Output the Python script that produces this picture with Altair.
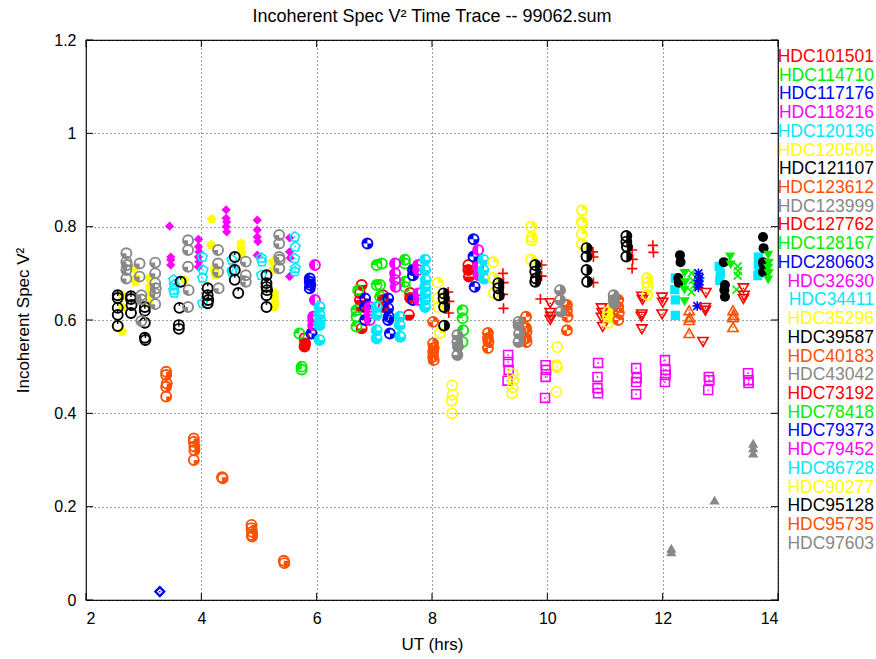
import math
import altair as alt
import pandas as pd

NAMES = ["HDC101501", "HDC114710", "HDC117176", "HDC118216", "HDC120136", "HDC120509",
         "HDC121107", "HDC123612", "HDC123999", "HDC127762", "HDC128167", "HDC280603",
         "HDC32630", "HDC34411", "HDC35296", "HDC39587", "HDC40183", "HDC43042",
         "HDC73192", "HDC78418", "HDC79373", "HDC79452", "HDC86728", "HDC90277",
         "HDC95128", "HDC95735", "HDC97603"]
PALETTE = ["#ff0000", "#00ee00", "#0000ff", "#ff00ff", "#00e8ff", "#ffff00",
           "#000000", "#ff5000", "#888888"]

X_TICKS = [2, 4, 6, 8, 10, 12, 14]
Y_TICKS = [0, 0.2, 0.4, 0.6, 0.8, 1.0, 1.2]

# ---- data: UT (hrs) and V^2 per star ----
UT_101501 = [8.28, 8.30, 8.29, 9.23, 9.24, 9.23, 9.24, 9.88, 9.90, 9.90, 10.79, 10.80, 10.80, 11.47, 11.48, 11.47, 11.83, 11.84]
V_101501 = [0.66, 0.64, 0.615, 0.70, 0.68, 0.655, 0.625, 0.645, 0.718, 0.694, 0.746, 0.735, 0.68, 0.75, 0.73, 0.71, 0.76, 0.745]

UT_114710 = [12.50, 12.52, 12.55, 12.50, 13.30, 13.31, 13.30, 13.28]
V_114710 = [0.70, 0.685, 0.675, 0.66, 0.715, 0.705, 0.695, 0.665]

UT_117176 = [12.62, 12.64, 12.62, 12.63, 12.62, 12.60]
V_117176 = [0.70, 0.69, 0.685, 0.675, 0.67, 0.63]

UT_118216 = [9.32, 9.32, 9.33, 9.31, 9.97, 9.98, 9.97, 9.96, 10.88, 10.87, 10.87, 10.88,
             11.54, 11.55, 11.54, 11.54, 12.04, 12.05, 12.05, 12.04, 12.80, 12.81, 12.79, 13.48, 13.49, 13.49]
V_118216 = [0.525, 0.51, 0.493, 0.47, 0.503, 0.493, 0.478, 0.433, 0.508, 0.478, 0.454, 0.443,
            0.497, 0.476, 0.467, 0.441, 0.514, 0.493, 0.482, 0.467, 0.478, 0.471, 0.45, 0.486, 0.471, 0.465]

UT_120136 = [12.22, 12.21, 12.22, 12.22, 12.98, 13.00, 12.99, 13.66, 13.66, 13.67, 13.65]
V_120136 = [0.69, 0.665, 0.643, 0.61, 0.715, 0.70, 0.685, 0.735, 0.72, 0.705, 0.695]

UT_120509 = [8.35, 8.36, 8.34, 8.35, 9.40, 9.41, 9.40, 9.39, 10.17, 10.16, 10.17, 10.16]
V_120509 = [0.46, 0.44, 0.427, 0.40, 0.484, 0.471, 0.456, 0.443, 0.542, 0.503, 0.499, 0.446]

UT_121107 = [12.30, 12.31, 12.27, 12.28, 13.06, 13.08, 13.07, 13.08, 13.74, 13.75, 13.74, 13.75, 13.74]
V_121107 = [0.739, 0.724, 0.69, 0.68, 0.724, 0.675, 0.664, 0.65, 0.778, 0.754, 0.724, 0.718, 0.703]

UT_123612 = [12.46, 12.47, 12.46, 12.46, 13.22, 13.23, 13.22, 13.22]
V_123612 = [0.621, 0.606, 0.60, 0.572, 0.621, 0.611, 0.606, 0.585]

UT_123999 = [12.15, 12.15, 12.90, 13.57, 13.57, 13.57]
V_123999 = [0.111, 0.103, 0.214, 0.336, 0.326, 0.315]

UT_127762 = [10.05, 10.05, 10.06, 10.05, 10.94, 10.95, 10.94, 10.96, 11.64, 11.65, 11.64, 11.63, 11.64,
             11.99, 12.00, 11.99, 12.75, 12.74, 12.74, 12.70, 13.40, 13.41, 13.40]
V_127762 = [0.636, 0.615, 0.607, 0.60, 0.625, 0.615, 0.605, 0.585, 0.65, 0.643, 0.612, 0.607, 0.58,
            0.648, 0.637, 0.612, 0.658, 0.626, 0.62, 0.553, 0.668, 0.652, 0.645]

UT_128167 = [12.38, 12.39, 12.38, 12.38, 13.17, 13.18, 13.83, 13.84, 13.83, 13.84, 13.83]
V_128167 = [0.70, 0.68, 0.664, 0.639, 0.735, 0.718, 0.739, 0.722, 0.711, 0.70, 0.686]

UT_280603 = [3.28]
V_280603 = [0.018]

UT_32630 = [3.45, 3.47, 3.47, 3.47, 3.95, 3.95, 3.96, 3.95, 3.96, 3.95, 4.43, 4.43, 4.44, 4.43, 4.44,
            4.97, 4.97, 4.97, 4.98, 4.97, 5.53, 5.53, 5.54, 5.53]
V_32630 = [0.801, 0.735, 0.729, 0.718, 0.773, 0.757, 0.746, 0.735, 0.725, 0.714, 0.836, 0.818, 0.81, 0.80, 0.789,
           0.814, 0.793, 0.778, 0.768, 0.739, 0.776, 0.746, 0.733, 0.693]

UT_34411 = [3.52, 3.53, 3.52, 3.53, 4.02, 4.03, 4.02, 4.02, 4.53, 4.54, 4.53, 5.04, 5.05, 5.04,
            5.62, 5.63, 5.62, 5.63, 5.62]
V_34411 = [0.686, 0.675, 0.664, 0.658, 0.735, 0.707, 0.69, 0.636, 0.729, 0.707, 0.703, 0.733, 0.725, 0.696,
           0.778, 0.757, 0.732, 0.711, 0.704]

UT_35296 = [2.84, 2.87, 2.86, 2.63, 2.63, 2.63, 3.10, 3.10, 3.11, 3.10, 3.71, 4.18, 4.17, 4.23, 4.23, 4.24,
            4.69, 4.69, 4.70, 5.24, 5.24, 5.27, 5.27, 5.28, 5.27]
V_35296 = [0.71, 0.69, 0.681, 0.653, 0.628, 0.575, 0.69, 0.671, 0.658, 0.639, 0.686, 0.816, 0.761, 0.711, 0.703, 0.696,
           0.764, 0.754, 0.743, 0.725, 0.707, 0.658, 0.647, 0.636, 0.628]

UT_39587 = [2.55, 2.55, 2.55, 2.55, 2.55, 2.78, 2.78, 2.79, 2.78, 3.02, 3.02, 3.02, 3.02, 3.03,
            3.64, 3.62, 3.61, 3.61, 4.11, 4.11, 4.12, 4.11, 4.58, 4.58, 4.58, 4.64,
            5.13, 5.13, 5.13, 5.14, 5.13, 5.13]
V_39587 = [0.653, 0.647, 0.626, 0.611, 0.587, 0.651, 0.645, 0.632, 0.615, 0.628, 0.62, 0.594, 0.562, 0.557,
           0.682, 0.626, 0.589, 0.581, 0.668, 0.653, 0.643, 0.636, 0.735, 0.707, 0.686, 0.658,
           0.696, 0.679, 0.671, 0.664, 0.653, 0.628]

UT_40183 = [3.39, 3.39, 3.40, 3.39, 3.39, 3.87, 3.87, 3.88, 3.88, 3.87, 4.36, 4.37,
            4.87, 4.87, 4.88, 4.88, 4.88, 5.43, 5.44]
V_40183 = [0.489, 0.482, 0.464, 0.457, 0.436, 0.346, 0.339, 0.329, 0.321, 0.30, 0.263, 0.261,
           0.161, 0.154, 0.146, 0.139, 0.136, 0.084, 0.079]

UT_43042 = [2.70, 2.70, 2.71, 2.70, 2.70, 2.93, 2.93, 2.96, 2.96, 2.96, 3.20, 3.20, 3.20, 3.21, 3.20, 3.20,
            3.77, 3.77, 3.77, 3.78, 3.77, 4.29, 4.29, 4.29, 4.30, 4.77, 4.77, 4.77,
            5.35, 5.35, 5.35, 5.36, 5.35]
V_43042 = [0.743, 0.725, 0.718, 0.707, 0.689, 0.721, 0.693, 0.653, 0.644, 0.598, 0.723, 0.70, 0.679, 0.668, 0.657, 0.634,
           0.771, 0.75, 0.714, 0.664, 0.628, 0.75, 0.721, 0.703, 0.668, 0.725, 0.696, 0.682,
           0.782, 0.764, 0.735, 0.729, 0.711]

UT_73192 = [5.79, 5.79, 5.80, 6.78, 6.75, 6.75, 6.76, 6.78, 7.15, 7.15, 7.16, 7.60, 7.62, 7.62, 8.63, 8.63, 8.64]
V_73192 = [0.561, 0.543, 0.55, 0.675, 0.657, 0.643, 0.628, 0.582, 0.653, 0.643, 0.628, 0.611, 0.658, 0.647, 0.718, 0.707, 0.693]

UT_78418 = [5.70, 5.74, 5.74, 6.72, 6.69, 6.69, 6.69, 7.04, 7.04, 7.13, 7.10, 7.10, 7.53, 7.53, 7.53, 7.53,
            8.53, 8.53, 8.54, 8.53]
V_78418 = [0.571, 0.50, 0.494, 0.664, 0.621, 0.607, 0.586, 0.718, 0.675, 0.721, 0.675, 0.65, 0.729, 0.721, 0.682, 0.671,
           0.621, 0.604, 0.578, 0.553]

UT_79373 = [5.88, 5.88, 5.89, 5.88, 5.91, 6.88, 6.84, 6.84, 6.84, 7.24, 7.24, 7.25, 7.24, 7.27,
            7.67, 7.67, 7.67, 8.72, 8.72, 8.74]
V_79373 = [0.689, 0.682, 0.675, 0.668, 0.571, 0.764, 0.646, 0.628, 0.60, 0.646, 0.625, 0.607, 0.60, 0.571,
           0.707, 0.696, 0.643, 0.773, 0.736, 0.671]

UT_79452 = [5.97, 5.97, 5.94, 5.94, 5.94, 6.92, 6.92, 6.92, 7.36, 7.36, 7.36, 7.37, 7.76, 7.76, 7.76, 7.77,
            8.80, 8.80, 8.81]
V_79452 = [0.718, 0.643, 0.607, 0.60, 0.589, 0.628, 0.614, 0.60, 0.721, 0.70, 0.686, 0.671, 0.718, 0.707, 0.657, 0.643,
           0.75, 0.714, 0.696]

UT_86728 = [6.05, 6.05, 6.06, 6.05, 6.05, 7.04, 7.04, 7.04, 7.04, 7.44, 7.44, 7.45,
            7.88, 7.88, 7.89, 7.88, 7.89, 7.88, 7.88, 8.89, 8.89, 8.90]
V_86728 = [0.628, 0.611, 0.60, 0.589, 0.557, 0.628, 0.611, 0.578, 0.561, 0.607, 0.589, 0.564,
           0.729, 0.707, 0.686, 0.671, 0.657, 0.643, 0.628, 0.729, 0.707, 0.689]

UT_90277 = [8.10, 8.10, 8.11, 8.14, 9.06, 9.06, 9.07, 9.72, 9.73, 9.73, 9.72,
            10.60, 10.60, 10.61, 10.60, 10.60, 11.73, 11.73, 11.74, 11.73, 11.05, 11.05, 11.06]
V_90277 = [0.68, 0.647, 0.628, 0.572, 0.724, 0.69, 0.658, 0.80, 0.778, 0.771, 0.73,
           0.835, 0.81, 0.808, 0.784, 0.763, 0.69, 0.68, 0.671, 0.654, 0.617, 0.607, 0.594]

UT_95128 = [8.20, 8.20, 8.21, 8.21, 9.15, 9.15, 9.16, 9.79, 9.79, 9.80, 9.79,
            10.68, 10.68, 10.68, 10.69, 11.37, 11.37, 11.38, 11.37]
V_95128 = [0.657, 0.646, 0.628, 0.588, 0.679, 0.668, 0.653, 0.718, 0.704, 0.689, 0.682,
           0.754, 0.736, 0.707, 0.682, 0.78, 0.768, 0.757, 0.736]

UT_95735 = [8.02, 8.02, 8.03, 8.02, 8.02, 8.03, 8.97, 8.97, 8.98, 8.97, 9.63, 9.63, 9.64, 9.63, 9.64,
            10.34, 10.34, 10.35, 10.34, 11.23, 11.23, 11.24, 11.23]
V_95735 = [0.596, 0.55, 0.54, 0.532, 0.521, 0.514, 0.572, 0.561, 0.553, 0.54, 0.607, 0.583, 0.575, 0.561, 0.553,
           0.632, 0.621, 0.607, 0.578, 0.643, 0.628, 0.615, 0.60]

UT_97603 = [8.44, 8.44, 8.45, 8.44, 9.50, 9.50, 9.51, 9.50, 10.22, 10.22, 10.23, 11.15, 11.15, 11.16]
V_97603 = [0.568, 0.553, 0.543, 0.525, 0.596, 0.589, 0.571, 0.553, 0.664, 0.643, 0.618, 0.653, 0.643, 0.636]

SERIES = [
    (UT_101501, V_101501), (UT_114710, V_114710), (UT_117176, V_117176), (UT_118216, V_118216),
    (UT_120136, V_120136), (UT_120509, V_120509), (UT_121107, V_121107), (UT_123612, V_123612),
    (UT_123999, V_123999), (UT_127762, V_127762), (UT_128167, V_128167), (UT_280603, V_280603),
    (UT_32630, V_32630), (UT_34411, V_34411), (UT_35296, V_35296), (UT_39587, V_39587),
    (UT_40183, V_40183), (UT_43042, V_43042), (UT_73192, V_73192), (UT_78418, V_78418),
    (UT_79373, V_79373), (UT_79452, V_79452), (UT_86728, V_86728), (UT_90277, V_90277),
    (UT_95128, V_95128), (UT_95735, V_95735), (UT_97603, V_97603),
]

rows = []
for name, (uts, vs) in zip(NAMES, SERIES):
    for u, v in zip(uts, vs):
        rows.append({"name": name, "ut": u, "v": v})
df = pd.DataFrame(rows)

COLORS27 = [PALETTE[i % len(PALETTE)] for i in range(len(NAMES))]

# ---- marker shapes (gnuplot point types) ----
PLUS = "M-1,0L1,0M0,-1L0,1"
XMARK = "M-0.8,-0.8L0.8,0.8M-0.8,0.8L0.8,-0.8"
STAR = PLUS + XMARK
PENT = "M0,-1L0.951,-0.309L0.588,0.809L-0.588,0.809L-0.951,-0.309Z"


def quad_path(bits):
    quads = [(1, 0, 90), (2, 90, 180), (4, 180, 270), (8, 270, 360)]
    out = []
    for b, a0, a1 in quads:
        if bits & b:
            s = "M0,0"
            for k in range(7):
                a = math.radians(a0 + (a1 - a0) * k / 6)
                s += f"L{math.cos(a):.3f},{math.sin(a):.3f}"
            out.append(s + "Z")
    return "".join(out)


# (shape, filled, size, center dot)
MARKERS = {
    1: (PLUS, False, 105, False), 2: (XMARK, False, 95, False), 3: (STAR, False, 95, False),
    4: ("square", False, 80, True), 5: ("square", True, 85, False),
    6: ("circle", False, 105, True), 7: ("circle", True, 100, False),
    8: ("triangle-up", False, 105, True), 9: ("triangle-up", True, 105, False),
    10: ("triangle-down", False, 105, True), 11: ("triangle-down", True, 105, False),
    12: ("diamond", False, 80, True), 13: ("diamond", True, 85, False),
    14: (PENT, False, 100, True), 15: (PENT, True, 100, False),
}

W, H = 692, 560

x_enc = alt.X("ut:Q", scale=alt.Scale(domain=[2, 14], nice=False, zero=False),
              axis=alt.Axis(values=X_TICKS, title="UT (hrs)", format="d"))
y_enc = alt.Y("v:Q", scale=alt.Scale(domain=[0, 1.2], nice=False),
              axis=alt.Axis(values=Y_TICKS, title="Incoherent Spec V²", format=".1~f"))

layers = []
for i, name in enumerate(NAMES):
    pt = i + 1
    col = COLORS27[i]
    base = alt.Chart(df).transform_filter(alt.datum.name == name)
    if pt <= 15:
        shape, filled, size, dot = MARKERS[pt]
        sw = 2.2 if pt == 12 else 1.6
        layers.append(base.mark_point(shape=shape, filled=filled, size=size, color=col,
                                      opacity=1, strokeWidth=sw).encode(x=x_enc, y=y_enc))
        if dot:
            layers.append(base.mark_point(shape="circle", filled=True, size=3, color=col,
                                          opacity=1).encode(x=x_enc, y=y_enc))
    else:
        n = pt - 16
        layers.append(base.mark_point(shape="circle", filled=False, size=100, color=col,
                                      opacity=1, strokeWidth=1.9).encode(x=x_enc, y=y_enc))
        if n == 0:
            layers.append(base.mark_point(shape="M0,-1L0,-0.4", filled=False, size=100, color=col,
                                          opacity=1, strokeWidth=1.4).encode(x=x_enc, y=y_enc))
        else:
            layers.append(base.mark_point(shape=quad_path(n), filled=True, size=100, color=col,
                                          opacity=1, strokeWidth=0).encode(x=x_enc, y=y_enc))

# inward tick marks on all four sides
ytick_df = pd.DataFrame({"v": Y_TICKS})
xtick_df = pd.DataFrame({"ut": X_TICKS})
TL = 7
layers.append(alt.Chart(ytick_df).mark_rule(color="black", strokeWidth=1).encode(
    y=y_enc, x=alt.value(0), x2=alt.value(TL)))
layers.append(alt.Chart(ytick_df).mark_rule(color="black", strokeWidth=1).encode(
    y=y_enc, x=alt.value(W - TL), x2=alt.value(W)))
layers.append(alt.Chart(xtick_df).mark_rule(color="black", strokeWidth=1).encode(
    x=x_enc, y=alt.value(H), y2=alt.value(H - TL)))
layers.append(alt.Chart(xtick_df).mark_rule(color="black", strokeWidth=1).encode(
    x=x_enc, y=alt.value(0), y2=alt.value(TL)))

# legend as coloured text on the right
leg_df = pd.DataFrame({"name": NAMES, "idx": list(range(len(NAMES)))})
legend = alt.Chart(leg_df).transform_calculate(
    v="1.16355 - 0.040114 * datum.idx"
).mark_text(align="right", baseline="middle", font="Liberation Sans", fontSize=17.5).encode(
    x=alt.value(W + 96),
    y=y_enc,
    text="name:N",
    color=alt.Color("name:N", scale=alt.Scale(domain=NAMES, range=COLORS27), legend=None),
)
layers.append(legend)

chart = alt.layer(*layers).properties(
    width=W, height=H,
    title=alt.TitleParams("Incoherent Spec V² Time Trace -- 99062.sum", fontSize=18,
                          fontWeight="normal", font="Liberation Sans", offset=6,
                          anchor="middle", frame="group", color="black"),
    padding={"left": 86, "top": 40, "right": 98, "bottom": 59},
    autosize=alt.AutoSizeParams(type="none"),
).configure_view(
    stroke="black", strokeWidth=1.2
).configure_axis(
    domain=False, ticks=False, grid=True, gridDash=[1, 3], gridColor="#444", gridWidth=1,
    labelFont="Liberation Sans", labelFontSize=16, labelColor="black", labelPadding=10,
    titleFont="Liberation Sans", titleFontSize=17, titleFontWeight="normal", titleColor="black",
).configure_axisY(titlePadding=21).configure_axisX(titlePadding=10)

chart.save("out.html", embed_options={"renderer": "svg", "actions": False})
